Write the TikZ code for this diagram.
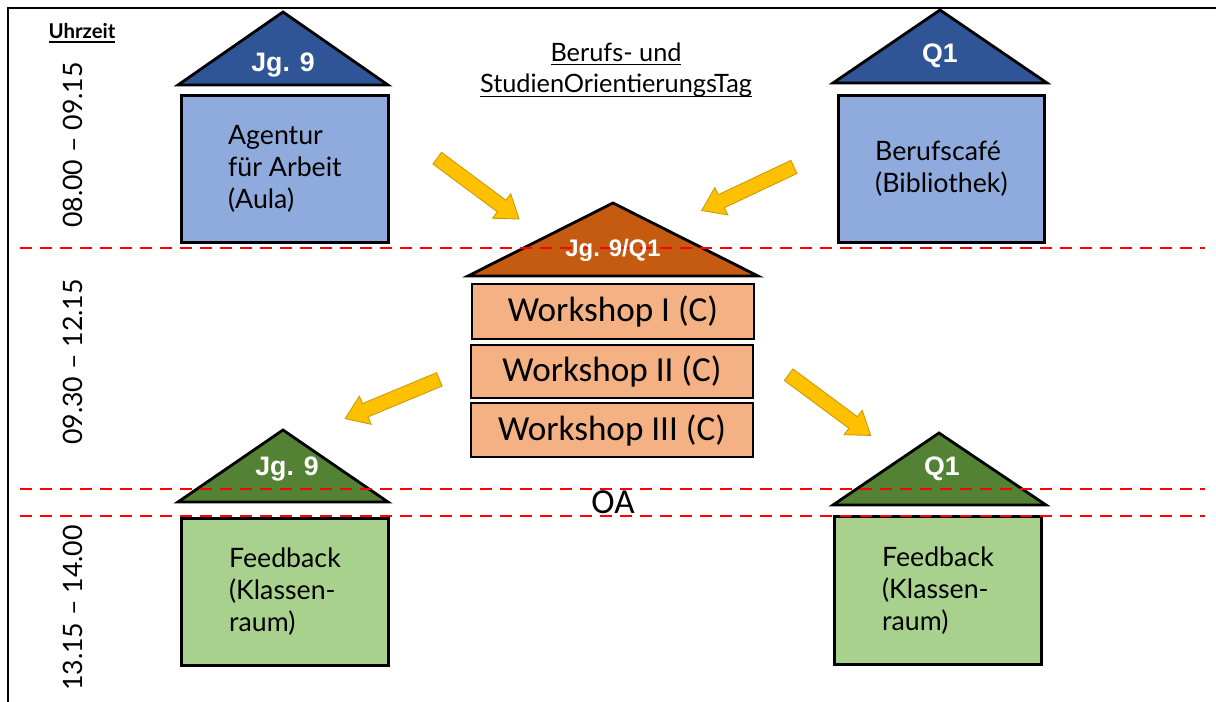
\documentclass[tikz,border=0pt]{standalone}
\usepackage{fontspec}
\setmainfont{Lato}
\newfontfamily\calfont{Carlito}
\newfontfamily\arialfont{Liberation Sans}
\usepackage{tikz}
\usetikzlibrary{shapes.arrows}

\definecolor{boxblue}{HTML}{8FAADC}
\definecolor{roofblue}{HTML}{2F5597}
\definecolor{rooforange}{HTML}{C55A11}
\definecolor{workorange}{HTML}{F4B183}
\definecolor{roofgreen}{HTML}{548235}
\definecolor{boxgreen}{HTML}{A9D18E}
\definecolor{arrowyellow}{HTML}{FFC000}
\definecolor{arrowedge}{HTML}{C99A00}
\definecolor{lineRed}{HTML}{FF0000}

% underline at a fixed depth
\newcommand{\ulword}[1]{\leavevmode\setbox0\hbox{#1}\rlap{\rule[-3pt]{\wd0}{0.9pt}}\box0}

\tikzset{
  house/.style={draw=black, line width=2pt, anchor=north west, align=left,
    minimum width=5.175cm, minimum height=3.675cm,
    font=\fontsize{19}{22.8}\selectfont},
  workbox/.style={draw=black, line width=2pt, fill=workorange,
    minimum width=7.05cm, minimum height=1.35cm,
    font=\calfont\fontsize{25}{25}\selectfont},
  roof/.style={draw=black, line width=2pt, line join=miter},
  rooflabel/.style={text=white, anchor=base, inner sep=0pt,
    font=\arialfont\bfseries\fontsize{19}{19}\selectfont},
  timelabel/.style={rotate=90, font=\fontsize{19}{19}\selectfont},
  slotline/.style={lineRed, line width=1.4pt, dash pattern=on 0.3cm off 0.2cm},
  yarrow/.style={single arrow, draw=arrowedge, fill=arrowyellow, line width=0.6pt,
    inner xsep=0pt, inner ysep=0.17cm, minimum height=2.55cm,
    single arrow head extend=0.2cm, single arrow tip angle=70,
    single arrow head indent=0pt, allow upside down}
}

\begin{document}
\begin{tikzpicture}[x=0.025cm, y=-0.025cm]
  \useasboundingbox (0,0) rectangle (1216,702);

  % Frame of the screenshot
  \draw[line width=1.1pt] (8,702) -- (8,8) -- (1216,8);

  % Headings
  \node[font=\bfseries\fontsize{14.5}{14.5}\selectfont] (uhrzeit) at (82,33) {\ulword{Uhrzeit}};
  \node[align=center, font=\fontsize{18}{22.5}\selectfont] (title) at (616,70)
    {\ulword{Berufs- und}\\\ulword{StudienOrientierungsTag}};

  % Time slots
  \node[timelabel] (slot1) at (73,145) {08.00 -- 09.15};
  \node[timelabel] (slot2) at (73,362) {09.30 -- 12.15};
  \node[timelabel] (slot3) at (73,608) {13.15 -- 14.00};

  % Roofs
  \draw[roof, fill=roofblue]   (178,85)  -- (283,12)  -- (388,85)  -- cycle;
  \draw[roof, fill=roofblue]   (833,83)  -- (940,10)  -- (1047,83) -- cycle;
  \draw[roof, fill=rooforange] (468,276) -- (613,203) -- (758,276) -- cycle;
  \draw[roof, fill=roofgreen]  (178,502) -- (283,430) -- (388,502) -- cycle;
  \draw[roof, fill=roofgreen]  (833,505) -- (939,433) -- (1046,505) -- cycle;

  % Houses
  \node[house, fill=boxblue] (agentur) at (180,94) {Agentur\\für Arbeit\\(Aula)};
  \node[house, fill=boxblue, minimum width=5.15cm] (cafe) at (837,94) {Berufscafé\\(Bibliothek)};
  \node[house, fill=boxgreen] (fbleft) at (180,517) {Feedback\\(Klassen-\\raum)};
  \node[house, fill=boxgreen, minimum width=5.175cm, minimum height=3.7cm] (fbright) at (833,515) {Feedback\\(Klassen-\\raum)};

  % Workshops
  \node[workbox, minimum height=1.375cm] (ws1) at (613,311.5) {Workshop I (C)};
  \node[workbox, minimum height=1.325cm] (ws2) at (612,371.5) {Workshop II (C)};
  \node[workbox] (ws3) at (612,430) {Workshop III (C)};

  % Slot borders
  \draw[slotline] (20,248) -- (1205,248);
  \draw[slotline] (20,489) -- (1205,489);
  \draw[slotline] (20,516) -- (1205,516);

  % Roof labels
  \node[rooflabel] (jgtop) at (283,72) {Jg. 9};
  \node[rooflabel] (qtop) at (940,63) {Q1};
  \node[rooflabel, font=\arialfont\bfseries\fontsize{17}{17}\selectfont] (both) at (613,257) {Jg. 9/Q1};
  \node[rooflabel] (jgbot) at (287,475) {Jg. 9};
  \node[rooflabel] (qbot) at (942,475) {Q1};

  \node[anchor=base, inner sep=0pt, font=\calfont\fontsize{25}{25}\selectfont] (oa) at (613,513) {OA};

  % Yellow arrows
  \coordinate (a1s) at (433,155);
  \coordinate (a1e) at (515,216);
  \coordinate (a2s) at (798,165);
  \coordinate (a2e) at (707,208);
  \coordinate (a3s) at (445,377);
  \coordinate (a3e) at (349,417);
  \coordinate (a4s) at (785,372);
  \coordinate (a4e) at (866,432);
  \path (a1s) -- (a1e) node[yarrow, midway, sloped] (arrow1) {};
  \path (a2s) -- (a2e) node[yarrow, midway, sloped] (arrow2) {};
  \path (a3s) -- (a3e) node[yarrow, midway, sloped] (arrow3) {};
  \path (a4s) -- (a4e) node[yarrow, midway, sloped] (arrow4) {};

\end{tikzpicture}
\end{document}
